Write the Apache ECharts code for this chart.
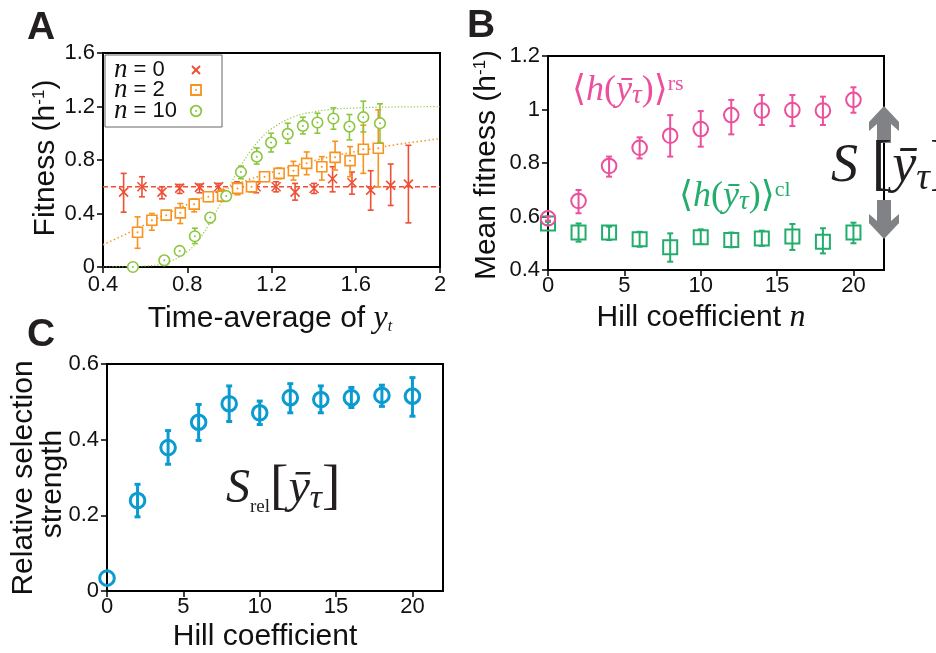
<!DOCTYPE html>
<html>
<head>
<meta charset="utf-8">
<script src="https://cdn.jsdelivr.net/npm/echarts@6.0.0/dist/echarts.min.js"></script>
<style>
  html, body { margin: 0; padding: 0; background: #fff; }
  #chart { width: 936px; height: 653px; }
</style>
</head>
<body>
<div id="chart"></div>
<script>
// ---- panel A: fitness vs time-average of y_t ----
const n0X  = [0.498, 0.585, 0.68, 0.764, 0.858, 0.949, 1.036, 1.127, 1.222, 1.312, 1.402, 1.49, 1.582, 1.671, 1.766, 1.85];
const n0Y  = [0.56, 0.60, 0.56, 0.59, 0.595, 0.60, 0.60, 0.60, 0.60, 0.56, 0.587, 0.66, 0.63, 0.575, 0.61, 0.62];
const n0Lo = [0.41, 0.525, 0.51, 0.55, 0.555, 0.56, 0.55, 0.555, 0.562, 0.50, 0.55, 0.562, 0.545, 0.425, 0.46, 0.33];
const n0Hi = [0.70, 0.675, 0.60, 0.617, 0.62, 0.625, 0.637, 0.637, 0.637, 0.625, 0.625, 0.75, 0.71, 0.72, 0.77, 0.91];

const n2X  = [0.564, 0.632, 0.70, 0.767, 0.833, 0.90, 0.968, 1.039, 1.105, 1.167, 1.236, 1.304, 1.367, 1.439, 1.502, 1.573, 1.636, 1.707];
const n2Y  = [0.26, 0.35, 0.3875, 0.405, 0.47, 0.525, 0.53, 0.5875, 0.60, 0.675, 0.70, 0.72, 0.775, 0.75, 0.82, 0.795, 0.88, 0.8875];
const n2Lo = [0.14, 0.275, 0.35, 0.325, 0.4125, 0.49, 0.49, 0.54, 0.56, 0.64, 0.66, 0.65, 0.69, 0.65, 0.725, 0.675, 0.70, 0.60];
const n2Hi = [0.375, 0.40, 0.42, 0.475, 0.51, 0.56, 0.575, 0.625, 0.64, 0.71, 0.74, 0.79, 0.86, 0.825, 0.94, 0.90, 1.06, 1.175];

const n10X  = [0.542, 0.691, 0.764, 0.836, 0.909, 0.985, 1.055, 1.13, 1.198, 1.277, 1.349, 1.418, 1.494, 1.57, 1.636, 1.715];
const n10Y  = [0.0, 0.05, 0.12, 0.23, 0.37, 0.53, 0.71, 0.825, 0.93, 0.995, 1.055, 1.08, 1.11, 1.05, 1.12, 1.075];
const n10Lo = [0.0, 0.025, 0.09, 0.175, 0.33, 0.505, 0.66, 0.77, 0.86, 0.925, 0.995, 1.0, 1.03, 0.95, 1.01, 0.93];
const n10Hi = [0.0, 0.075, 0.15, 0.29, 0.40, 0.56, 0.755, 0.89, 1.0, 1.075, 1.12, 1.15, 1.19, 1.14, 1.24, 1.22];

// dotted fit curves and the flat n=0 line
const curveX   = [0.4, 0.5, 0.6, 0.7, 0.8, 0.85, 0.9, 0.95, 1.0, 1.05, 1.1, 1.15, 1.2, 1.3, 1.4, 1.5, 1.6, 1.7, 1.8, 1.9, 2.0];
const curve2Y  = [0.166, 0.24, 0.318, 0.395, 0.468, 0.503, 0.537, 0.569, 0.6, 0.629, 0.658, 0.684, 0.708, 0.753, 0.794, 0.831, 0.863, 0.891, 0.917, 0.939, 0.96];
const curve10Y = [0.0, 0.001, 0.007, 0.033, 0.116, 0.197, 0.31, 0.45, 0.6, 0.743, 0.866, 0.962, 1.033, 1.119, 1.16, 1.18, 1.189, 1.194, 1.197, 1.198, 1.199];
const flatX = [0.4, 2.0];
const flatY = [0.6, 0.6];

// ---- panel B: mean fitness vs Hill coefficient ----
const hillN = [0, 2, 4, 6, 8, 10, 12, 14, 16, 18, 20];
const rsY  = [0.593, 0.658, 0.789, 0.857, 0.902, 0.927, 0.979, 0.996, 0.998, 0.996, 1.036];
const rsLo = [0.585, 0.612, 0.749, 0.817, 0.824, 0.861, 0.907, 0.942, 0.938, 0.942, 0.988];
const rsHi = [0.60, 0.699, 0.824, 0.896, 0.979, 0.994, 1.036, 1.054, 1.054, 1.048, 1.083];
const clY  = [0.574, 0.54, 0.54, 0.515, 0.485, 0.522, 0.512, 0.518, 0.525, 0.506, 0.54];
const clLo = [0.568, 0.506, 0.512, 0.487, 0.431, 0.497, 0.485, 0.49, 0.475, 0.462, 0.50];
const clHi = [0.58, 0.574, 0.562, 0.543, 0.537, 0.552, 0.54, 0.547, 0.572, 0.556, 0.577];

// ---- panel C: relative selection strength ----
const relY  = [0.034, 0.239, 0.379, 0.446, 0.495, 0.471, 0.511, 0.506, 0.511, 0.517, 0.515];
const relLo = [0.034, 0.196, 0.335, 0.398, 0.448, 0.44, 0.471, 0.471, 0.485, 0.488, 0.462];
const relHi = [0.034, 0.282, 0.424, 0.493, 0.542, 0.502, 0.548, 0.542, 0.538, 0.544, 0.564];

const RED = '#ee4f35', ORANGE = '#f7931e', LGREEN = '#8cc63f';
const PINK = '#ec4f9c', GREEN = '#22ad6c', BLUE = '#0b9bd0', GRAY = '#808285';
const SANS = "'Liberation Sans', Arial, sans-serif";
const SERIF = "'Liberation Serif', 'DejaVu Serif', serif";

function rows(xs, ys, lo, hi) {
  return xs.map((x, i) => [x, ys[i], lo[i], hi[i]]);
}
function pairs(xs, ys) {
  return xs.map((x, i) => [x, ys[i]]);
}

// error bar + marker drawn by a custom series
function errItem(shape, color, r, lw, opt) {
  opt = opt || {};
  const cap = opt.cap || 3;
  return function (params, api) {
    const x = api.value(0);
    const c = api.coord([x, api.value(1)]);
    const lo = api.coord([x, api.value(2)]);
    const hi = api.coord([x, api.value(3)]);
    const st = { stroke: color, lineWidth: lw, fill: 'none' };
    const kids = [];
    if (lo[1] - hi[1] > 1) {
      kids.push({ type: 'line', shape: { x1: c[0], y1: hi[1], x2: c[0], y2: lo[1] }, style: st });
      kids.push({ type: 'line', shape: { x1: c[0] - cap, y1: hi[1], x2: c[0] + cap, y2: hi[1] }, style: st });
      kids.push({ type: 'line', shape: { x1: c[0] - cap, y1: lo[1], x2: c[0] + cap, y2: lo[1] }, style: st });
    }
    const mst = { stroke: color, lineWidth: lw, fill: opt.white ? '#fff' : 'none' };
    if (shape === 'circle') {
      kids.push({ type: 'circle', shape: { cx: c[0], cy: c[1], r: r }, style: mst });
    } else if (shape === 'rect') {
      kids.push({ type: 'rect', shape: { x: c[0] - r, y: c[1] - r, width: 2 * r, height: 2 * r }, style: mst });
    } else {
      kids.push({ type: 'line', shape: { x1: c[0] - r, y1: c[1] - r, x2: c[0] + r, y2: c[1] + r }, style: st });
      kids.push({ type: 'line', shape: { x1: c[0] - r, y1: c[1] + r, x2: c[0] + r, y2: c[1] - r }, style: st });
    }
    if (opt.dot) {
      kids.push({ type: 'circle', shape: { cx: c[0], cy: c[1], r: 1 }, style: { fill: color } });
    }
    return { type: 'group', children: kids };
  };
}

function xAx(grid, min, max, interval, hideMax, margin) {
  return {
    type: 'value', gridIndex: grid, min: min, max: max, interval: interval,
    axisLine: { show: true, onZero: false, lineStyle: { color: '#000', width: 2 } },
    axisTick: { show: true, inside: false, length: 6, lineStyle: { color: '#000', width: 1.5 } },
    axisLabel: { color: '#111', fontSize: 22, fontFamily: SANS, margin: margin, showMaxLabel: !hideMax },
    splitLine: { show: false }
  };
}
function yAx(grid, min, max, interval) {
  return {
    type: 'value', gridIndex: grid, min: min, max: max, interval: interval,
    axisLine: { show: true, onZero: false, lineStyle: { color: '#000', width: 2 } },
    axisTick: { show: true, inside: false, length: 6, lineStyle: { color: '#000', width: 1.5 } },
    axisLabel: { color: '#111', fontSize: 22, fontFamily: SANS, margin: 8 },
    splitLine: { show: false }
  };
}

const gridBase = { show: true, borderColor: '#000', borderWidth: 2, containLabel: false };

function txt(x, y, text, rich, extra) {
  return Object.assign({
    type: 'text', x: x, y: y, z: 50,
    style: { text: text, rich: rich, textAlign: 'left', textVerticalAlign: 'middle' }
  }, extra || {});
}
function centered(x, y, text, rich, rot) {
  const t = txt(x, y, text, rich, rot ? { rotation: rot } : null);
  t.style.textAlign = 'center';
  return t;
}
function mathRich(color, size, subSize, tauSize) {
  return {
    n: { fontFamily: SERIF, fontSize: size, fill: color },
    i: { fontFamily: SERIF, fontStyle: 'italic', fontSize: size, fill: color },
    s: { fontFamily: SERIF, fontStyle: 'italic', fontSize: tauSize || subSize, fill: color, verticalAlign: 'bottom' },
    r: { fontFamily: SERIF, fontSize: subSize, fill: color, verticalAlign: 'bottom' },
    p: { fontFamily: SERIF, fontSize: subSize, fill: color, verticalAlign: 'top' },
    b: { fontFamily: SERIF, fontSize: size * 1.15, fill: color }
  };
}
const titleRich = {
  a: { fontFamily: SANS, fontSize: 30, fill: '#111' },
  p: { fontFamily: SANS, fontSize: 17, fill: '#111', verticalAlign: 'top' },
  i: { fontFamily: SERIF, fontStyle: 'italic', fontSize: 32, fill: '#111' },
  s: { fontFamily: SERIF, fontStyle: 'italic', fontSize: 16, fill: '#111', verticalAlign: 'bottom' }
};
const letterRich = { a: { fontFamily: SANS, fontSize: 39, fontWeight: 'bold', fill: '#231f20' } };
const legRich = {
  i: { fontFamily: SERIF, fontStyle: 'italic', fontSize: 27, fill: '#111' },
  a: { fontFamily: SANS, fontSize: 22, fill: '#111' }
};

const chart = echarts.init(document.getElementById('chart'));
chart.setOption({
  animation: false,
  backgroundColor: '#fff',
  grid: [
    Object.assign({ left: 103, top: 53, width: 337, height: 214 }, gridBase),
    Object.assign({ left: 548, top: 56, width: 336, height: 214 }, gridBase),
    Object.assign({ left: 107, top: 364, width: 336, height: 227 }, gridBase)
  ],
  xAxis: [xAx(0, 0.4, 2, 0.4, false, 7), xAx(1, 0, 22, 5, true, 5), xAx(2, 0, 22, 5, true, 5)],
  yAxis: [yAx(0, 0, 1.6, 0.4), yAx(1, 0.4, 1.2, 0.2), yAx(2, 0, 0.6, 0.2)],
  series: [
    { type: 'line', xAxisIndex: 0, yAxisIndex: 0, data: pairs(flatX, flatY), showSymbol: false,
      lineStyle: { color: RED, width: 1.5, type: [5, 3] }, z: 1 },
    { type: 'line', xAxisIndex: 0, yAxisIndex: 0, data: pairs(curveX, curve2Y), smooth: true, showSymbol: false,
      lineStyle: { color: ORANGE, width: 1.5, type: [1.5, 2.5] }, z: 1 },
    { type: 'line', xAxisIndex: 0, yAxisIndex: 0, data: pairs(curveX, curve10Y), smooth: true, showSymbol: false,
      lineStyle: { color: LGREEN, width: 1.2, type: [1.2, 2] }, z: 1 },
    { type: 'custom', xAxisIndex: 0, yAxisIndex: 0, data: rows(n0X, n0Y, n0Lo, n0Hi),
      renderItem: errItem('cross', RED, 4.5, 1.6), z: 3 },
    { type: 'custom', xAxisIndex: 0, yAxisIndex: 0, data: rows(n2X, n2Y, n2Lo, n2Hi),
      renderItem: errItem('rect', ORANGE, 5, 1.6, { white: true, dot: true }), z: 4 },
    { type: 'custom', xAxisIndex: 0, yAxisIndex: 0, data: rows(n10X, n10Y, n10Lo, n10Hi),
      renderItem: errItem('circle', LGREEN, 5.3, 1.6, { white: true, dot: true }), z: 5 },
    { type: 'custom', xAxisIndex: 1, yAxisIndex: 1, data: rows(hillN, clY, clLo, clHi),
      renderItem: errItem('rect', GREEN, 7, 2, { cap: 3 }), z: 4 },
    { type: 'custom', xAxisIndex: 1, yAxisIndex: 1, data: rows(hillN, rsY, rsLo, rsHi),
      renderItem: errItem('circle', PINK, 7.3, 2, { cap: 3 }), z: 5 },
    { type: 'custom', xAxisIndex: 2, yAxisIndex: 2, data: rows(hillN, relY, relLo, relHi),
      renderItem: errItem('circle', BLUE, 7.3, 3, { cap: 3 }), z: 5 }
  ],
  graphic: [
    // panel letters
    centered(41, 28, '{a|A}', letterRich),
    centered(481, 26, '{a|B}', letterRich),
    centered(41, 335, '{a|C}', letterRich),
    // axis titles
    centered(270, 319, '{a|Time-average of }{i|y}{s|t}', titleRich),
    centered(46, 158, '{a|Fitness (h}{p|-1}{a|)}', titleRich, Math.PI / 2),
    centered(701, 318, '{a|Hill coefficient }{i|n}', titleRich),
    centered(487, 165, '{a|Mean fitness (h}{p|-1}{a|)}', titleRich, Math.PI / 2),
    centered(265, 637, '{a|Hill coefficient}', titleRich),
    centered(24, 478, '{a|Relative selection}', titleRich, Math.PI / 2),
    centered(53, 484, '{a|strength}', titleRich, Math.PI / 2),
    // legend of panel A
    { type: 'rect', z: 40, shape: { x: 105, y: 55, width: 117, height: 72 },
      style: { fill: '#fff', stroke: '#666', lineWidth: 1 } },
    txt(114, 70, '{i|n}{a| = 0}', legRich),
    txt(114, 90, '{i|n}{a| = 2}', legRich),
    txt(114, 111, '{i|n}{a| = 10}', legRich),
    { type: 'line', z: 45, shape: { x1: 192, y1: 66, x2: 200, y2: 74 }, style: { stroke: RED, lineWidth: 2 } },
    { type: 'line', z: 45, shape: { x1: 192, y1: 74, x2: 200, y2: 66 }, style: { stroke: RED, lineWidth: 2 } },
    { type: 'rect', z: 45, shape: { x: 191, y: 85, width: 10, height: 10 }, style: { fill: '#fff', stroke: ORANGE, lineWidth: 1.8 } },
    { type: 'circle', z: 46, shape: { cx: 196, cy: 90, r: 1 }, style: { fill: ORANGE } },
    { type: 'circle', z: 45, shape: { cx: 196, cy: 111, r: 5.3 }, style: { fill: '#fff', stroke: LGREEN, lineWidth: 1.8 } },
    { type: 'circle', z: 46, shape: { cx: 196, cy: 111, r: 1 }, style: { fill: LGREEN } },
    // formula labels of panel B
    txt(572, 91, '{n|⟨}{i|h}{n|(}{i|ȳ}{s|τ}{n|)⟩}{p|rs}', mathRich(PINK, 36, 22, 27)),
    txt(679, 197, '{n|⟨}{i|h}{n|(}{i|ȳ}{s|τ}{n|)⟩}{p|cl}', mathRich(GREEN, 36, 22, 27)),
    txt(831, 167, '{i|S}{n| }{b|[}{i|ȳ}{s|τ}{b|]}', mathRich('#231f20', 54, 30, 38)),
    // arrows around the right axis of B
    { type: 'polygon', z: 30, shape: { points: [[884, 106], [899, 122], [899, 131], [891, 124], [891, 143], [877, 143], [877, 124], [869, 131], [869, 122]] },
      style: { fill: GRAY } },
    { type: 'polygon', z: 30, shape: { points: [[884, 239], [899, 223], [899, 214], [891, 221], [891, 200], [877, 200], [877, 221], [869, 214], [869, 223]] },
      style: { fill: GRAY } },
    // formula label of panel C
    txt(226, 489, '{i|S}{r|rel}{b|[}{i|ȳ}{s|τ}{b|]}', mathRich('#231f20', 48, 19, 34))
  ]
});
</script>
</body>
</html>
